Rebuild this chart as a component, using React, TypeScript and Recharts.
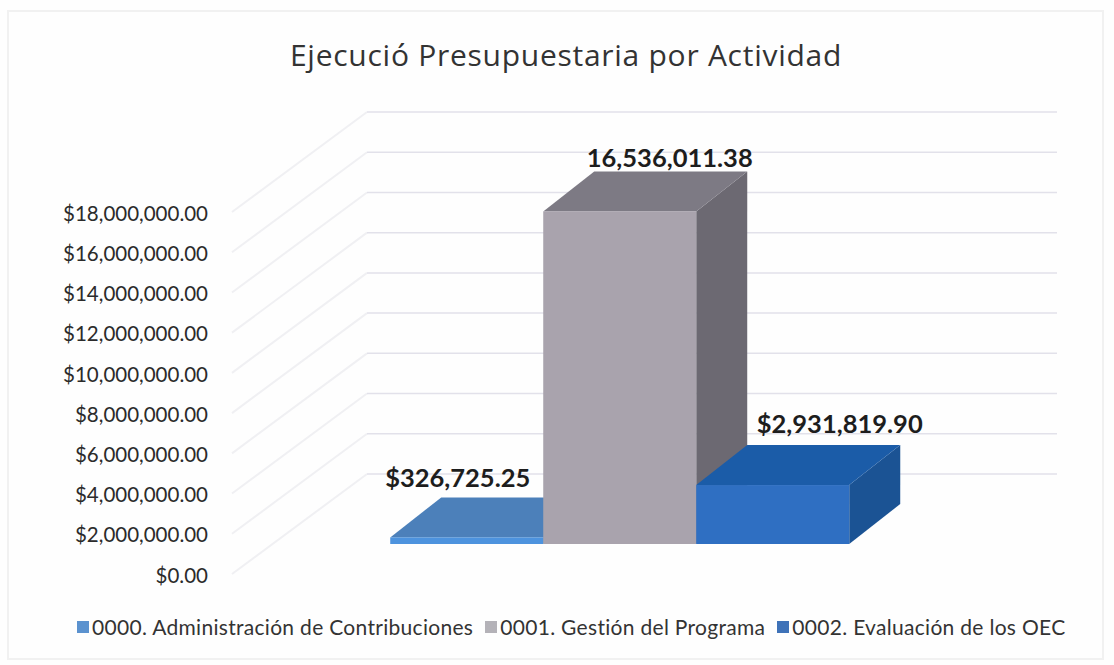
import React from "react";
import { BarChart, Bar, XAxis, YAxis, Legend, LabelList, CartesianGrid } from "recharts";

const categories = ["Ejecución"];
const seriesNames = [
  "0000. Administración de Contribuciones",
  "0001. Gestión del Programa",
  "0002. Evaluación de los OEC",
];
const seriesValues = [326725.25, 16536011.38, 2931819.9];
const valueLabels = ["$326,725.25", "16,536,011.38", "$2,931,819.90"];
const yTicks = [0, 2000000, 4000000, 6000000, 8000000, 10000000, 12000000, 14000000, 16000000, 18000000];

const faces = [
  { front: "#4d93de", top: "#4c80ba", side: "#3f6fa8", legend: "#5b92cf" },
  { front: "#a9a3ad", top: "#7d7a84", side: "#6c6972", legend: "#b4b2b8" },
  { front: "#2f6fc2", top: "#1b5ca8", side: "#1b5394", legend: "#3f72b8" },
];
const labelOffsets = [
  { dx: -9, dy: -59 },
  { dx: 50, dy: -53 },
  { dx: 67, dy: -61 },
];

const data = categories.map((c) => {
  const row: Record<string, string | number> = { category: c };
  seriesNames.forEach((n, i) => (row[n] = seriesValues[i]));
  return row;
});

const FONT = "Lato, 'Open Sans', sans-serif";
const BAR_SHIFT_X = 43;
const BAR_SHIFT_Y = -30;
const DEPTH_X = 51;
const DEPTH_Y = -40;
const WALL_DX = 135;
const WALL_DY = -100;
const WALL_WIDTH = 690;

const money = (v: number) =>
  "$" + v.toLocaleString("en-US", { minimumFractionDigits: 2, maximumFractionDigits: 2 });

const WallLine = (props: any) => {
  const { x1, y1, index } = props;
  return (
    <g key={index}>
      <line x1={x1} y1={y1} x2={x1 + WALL_DX} y2={y1 + WALL_DY} stroke="#f0f0f3" strokeWidth={2} />
      <line x1={x1 + WALL_DX} y1={y1 + WALL_DY} x2={x1 + WALL_DX + WALL_WIDTH} y2={y1 + WALL_DY} stroke="#e2e1ea" strokeWidth={1.5} />
    </g>
  );
};

const ValueTick = (props: any) => {
  const { x, y, payload } = props;
  return (
    <text x={x} y={y + 1.5} dy="0.35em" textAnchor="end" fontFamily={FONT} fontSize={20.5} fill="#2b2b2b">
      {money(payload.value)}
    </text>
  );
};

const makeBox = (i: number) => (props: any) => {
  const { x, y, width, height } = props;
  const f = faces[i];
  const l = x + BAR_SHIFT_X;
  const r = l + width;
  const t = y + BAR_SHIFT_Y;
  const b = t + height;
  return (
    <g>
      <polygon points={`${r},${t} ${r + DEPTH_X},${t + DEPTH_Y} ${r + DEPTH_X},${b + DEPTH_Y} ${r},${b}`} fill={f.side} />
      <polygon points={`${l},${t} ${l + DEPTH_X},${t + DEPTH_Y} ${r + DEPTH_X},${t + DEPTH_Y} ${r},${t}`} fill={f.top} />
      <rect x={l} y={t} width={width} height={height} fill={f.front} />
    </g>
  );
};

const makeLabel = (i: number) => (props: any) => {
  const { x, y, width } = props;
  const o = labelOffsets[i];
  return (
    <text x={x + width / 2 + BAR_SHIFT_X + o.dx} y={y + BAR_SHIFT_Y + o.dy} dy="0.35em" textAnchor="middle" fontFamily={FONT} fontWeight={700} fontSize={25.5} fill="#1d1d1d">
      {valueLabels[i]}
    </text>
  );
};

const LegendRow = () => (
  <div style={{ display: "flex", alignItems: "center", fontFamily: FONT, fontSize: 21, letterSpacing: 0.3, color: "#333", whiteSpace: "nowrap", lineHeight: "24px" }}>
    {seriesNames.map((n, i) => (
      <span key={n} style={{ display: "inline-flex", alignItems: "center", marginRight: 12 }}>
        <span style={{ width: 12, height: 12, background: faces[i].legend, marginRight: 3, display: "inline-block" }} />
        {n}
      </span>
    ))}
  </div>
);

export default function App() {
  return (
    <div style={{ position: "absolute", left: 0, top: 0, width: 1114, height: 665, background: "#fefefe" }}>
      <div style={{ position: "absolute", left: 7, top: 10, width: 1097, height: 650, border: "2px solid #f1f1f1", boxSizing: "border-box" }} />
      <div style={{ position: "absolute", left: 0, top: 30, width: 1114, marginLeft: 9, textAlign: "center", fontFamily: "'Open Sans', sans-serif", fontSize: 30, lineHeight: "50px", color: "#333", letterSpacing: 0.73 }}>
        Ejecució Presupuestaria por Actividad
      </div>
      <div style={{ position: "absolute", left: 0, top: 0 }}>
        <BarChart
          width={1114}
          height={665}
          data={data}
          margin={{ top: 212, right: 192, bottom: 61, left: 0 }}
          barCategoryGap="16.7%"
          barGap={0}
        >
          <CartesianGrid vertical={false} horizontal={(p: any) => <WallLine {...p} />} />
          <XAxis dataKey="category" hide />
          <YAxis
            width={232}
            domain={[0, 18000000]}
            ticks={yTicks}
            interval={0}
            axisLine={false}
            tickLine={false}
            tickMargin={24}
            tickSize={0}
            tick={<ValueTick />}
          />
          <Legend
            height={30}
            content={<LegendRow />}
            wrapperStyle={{ left: 77, top: 615, bottom: "auto", width: 1030 }}
          />
          {seriesNames.map((n, i) => (
            <Bar key={n} dataKey={n} isAnimationActive={false} fill={faces[i].legend} shape={makeBox(i)}>
              <LabelList dataKey={n} content={makeLabel(i)} />
            </Bar>
          ))}
        </BarChart>
      </div>
    </div>
  );
}
